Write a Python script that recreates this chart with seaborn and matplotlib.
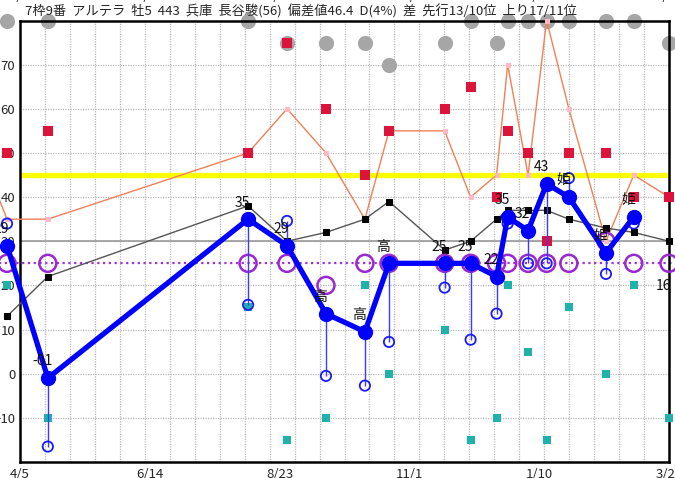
import numpy as np
import pandas as pd
import matplotlib
matplotlib.use("Agg")
import matplotlib.pyplot as plt
from matplotlib.ticker import FixedLocator
import matplotlib.dates as mdates
import seaborn as sns

TITLE = "7枠9番  アルテラ  牡5  443  兵庫  長谷駿(56)  偏差値46.4  D(4%)  差  先行13/10位  上り17/11位"

# race dates (first one sits just left of the axis)
race_dates = ["2023-03-29", "2023-04-20", "2023-08-06", "2023-08-27", "2023-09-17",
              "2023-10-08", "2023-10-21", "2023-11-20", "2023-12-04", "2023-12-18",
              "2023-12-24", "2024-01-04", "2024-01-14", "2024-01-26", "2024-02-15",
              "2024-03-01", "2024-03-20"]

# thick blue series and its labels
main_score = [29, -1, 35, 29, 13.6, 9.5, 25, 25, 25, 22, 35.5, 32.4, 43, 40, 27.4, 35.5, np.nan]
main_label = ["29", "-01", "35", "29", "高", "高", "高", "25", "25", "22", "35", "32", "43", "姫", "姫", "姫", ""]
# thin blue stems end in hollow circles
stem_end = [34, -16.5, 15.6, 34.6, -0.5, -2.7, 7.2, 19.5, 7.7, 13.6, 34, 25, 25, 44.3, 22.6, 34, np.nan]
# label without a visible point on the last date
last_label = ("2024-03-20", 16, "16")

purple_ring = [25, 25, 25, 25, 20, 25, 25, 25, 25, 25, 25, 25, 25, 25, 30, 25, 25]
gray_dot = [80, 80, 80, 75, 75, 75, 70, 75, 80, 75, 80, 80, 80, 80, 80, 80, 75]
red_sq = [50, 55, 50, 75, 60, 45, 55, 60, 65, 40, 55, 50, 30, 50, 50, 40, 40]
teal_sq = [20, -10, 15, -15, -10, 20, 0, 10, -15, -10, 20, 5, -15, 15, 0, 20, -10]
black_line = [13, 22, 38, 30, 32, 35, 39, 28, 30, 35, 37, 37, 37, 35, 33, 32, 30]

# salmon line starts one race earlier, off to the left
trend_dates = ["2023-03-15"] + race_dates
trend_line = [50, 35, 35, 50, 60, 50, 35, 55, 55, 40, 45, 70, 45, 80, 60, 30, 45, 40]

yellow_level = 45
purple_level = 25
gray_level = 30

x_start, x_end = "2023-04-05", "2024-03-20"
x_ticks = ["2023-04-05", "2023-06-14", "2023-08-23", "2023-11-01", "2024-01-10", "2024-03-20"]
x_tick_labels = ["4/5", "6/14", "8/23", "11/1", "1/10", "3/20"]
y_ticks = [-10, 0, 10, 20, 30, 40, 50, 60, 70]

races = pd.DataFrame({
    "date": pd.to_datetime(race_dates),
    "main": main_score,
    "stem": stem_end,
    "purple": purple_ring,
    "gray": gray_dot,
    "red": red_sq,
    "teal": teal_sq,
    "black": black_line,
})
trend = pd.DataFrame({"date": pd.to_datetime(trend_dates), "val": trend_line})

sns.set_style("white")
plt.rcParams["font.family"] = ["Noto Sans CJK JP", "DejaVu Sans"]

fig = plt.figure(figsize=(6.75, 4.78), dpi=100)
ax = fig.add_axes([20 / 675, 16 / 478, 649 / 675, 441.5 / 478])

x0, x1 = pd.Timestamp(x_start), pd.Timestamp(x_end)
ax.set_xlim(x0, x1)
ax.set_ylim(-20, 80)

# grid
ax.xaxis.set_major_locator(FixedLocator(mdates.date2num(pd.to_datetime(x_ticks))))
ax.set_xticklabels(x_tick_labels)
ax.xaxis.set_minor_locator(FixedLocator(np.linspace(mdates.date2num(x0), mdates.date2num(x1), 27)))
ax.set_yticks(y_ticks)
ax.grid(False)
ax.grid(which="minor", axis="x", color="#b8b8b8", ls=(0, (1, 1)), lw=0.9)
ax.grid(which="major", axis="y", color="#b8b8b8", ls=(0, (1, 1)), lw=0.9)
ax.tick_params(which="both", length=0)
ax.tick_params(axis="x", pad=4, labelsize=9.5)
ax.tick_params(axis="y", pad=3.5, labelsize=9.5)
for s in ax.spines.values():
    s.set_color("black")
    s.set_linewidth(1.8)

ax.axhline(gray_level, color="#9a9a9a", lw=1.2, zorder=1.2)
ax.axhline(yellow_level, color="#ffff00", lw=3.8, zorder=1.5)
ax.axhline(purple_level, color="#a030d8", lw=1.6, ls=(0, (1, 1.6)),
           xmin=-0.05, xmax=1.05, clip_on=False, zorder=1.6)

sns.scatterplot(data=races, x="date", y="gray", color="#a6a6a6", s=120, linewidth=0,
                ax=ax, clip_on=False, zorder=2)
sns.lineplot(data=trend, x="date", y="val", color="#f08058", lw=1, marker="s", markersize=3.2,
             markerfacecolor="#ffb8c4", markeredgecolor="#ffb8c4", estimator=None,
             ax=ax, clip_on=False, zorder=3)
sns.lineplot(data=races, x="date", y="black", color="#555555", lw=1, marker="s", markersize=3.8,
             markerfacecolor="black", markeredgecolor="black", estimator=None,
             ax=ax, clip_on=False, zorder=3.2)
sns.scatterplot(data=races, x="date", y="red", color="#dc143c", marker="s", s=48, linewidth=0,
                ax=ax, clip_on=False, zorder=3.5)
sns.scatterplot(data=races, x="date", y="teal", color="#20b2aa", marker="s", s=32, linewidth=0,
                ax=ax, clip_on=False, zorder=3.5)
sns.scatterplot(data=races, x="date", y="purple", facecolors="none", edgecolor="#9a28d0",
                s=150, linewidth=1.8, ax=ax, clip_on=False, zorder=4)

stems = races.dropna(subset=["main", "stem"])
ax.vlines(stems["date"], stems["main"], stems["stem"], color="#3b3bff", lw=1.0, zorder=4.5)
sns.scatterplot(data=stems, x="date", y="stem", facecolors="none", edgecolor="#1a1aff",
                s=55, linewidth=1.3, ax=ax, clip_on=False, zorder=4.6)

main = races.dropna(subset=["main"])
sns.lineplot(data=main, x="date", y="main", color="#0000ff", lw=3.8, marker="o", markersize=11,
             markeredgewidth=0, estimator=None, ax=ax, clip_on=False, zorder=5)

for d, v, t in zip(races["date"], races["main"], main_label):
    if t and not np.isnan(v):
        ax.annotate(t, (d, v), xytext=(-4, 12), textcoords="offset points",
                    ha="center", va="center", fontsize=10, color="#111111", zorder=6,
                    annotation_clip=False)
ax.annotate(last_label[2], (pd.Timestamp(last_label[0]), last_label[1]), xytext=(-4, 12),
            textcoords="offset points", ha="center", va="center", fontsize=10,
            color="#111111", zorder=6, annotation_clip=False)

# date labels repeated above the frame (cut by the image edge, as in the source)
for d, t in zip(pd.to_datetime(x_ticks), x_tick_labels):
    ax.annotate(t, (d, 1), xycoords=("data", "axes fraction"), xytext=(0, 17.5),
                textcoords="offset points", ha="center", va="center", fontsize=9.5,
                annotation_clip=False)

ax.set_xlabel("")
ax.set_ylabel("")
fig.text(25 / 675, 1 - 11 / 478, TITLE, ha="left", va="center", fontsize=9.5)

fig.savefig("out.png", dpi=100)
